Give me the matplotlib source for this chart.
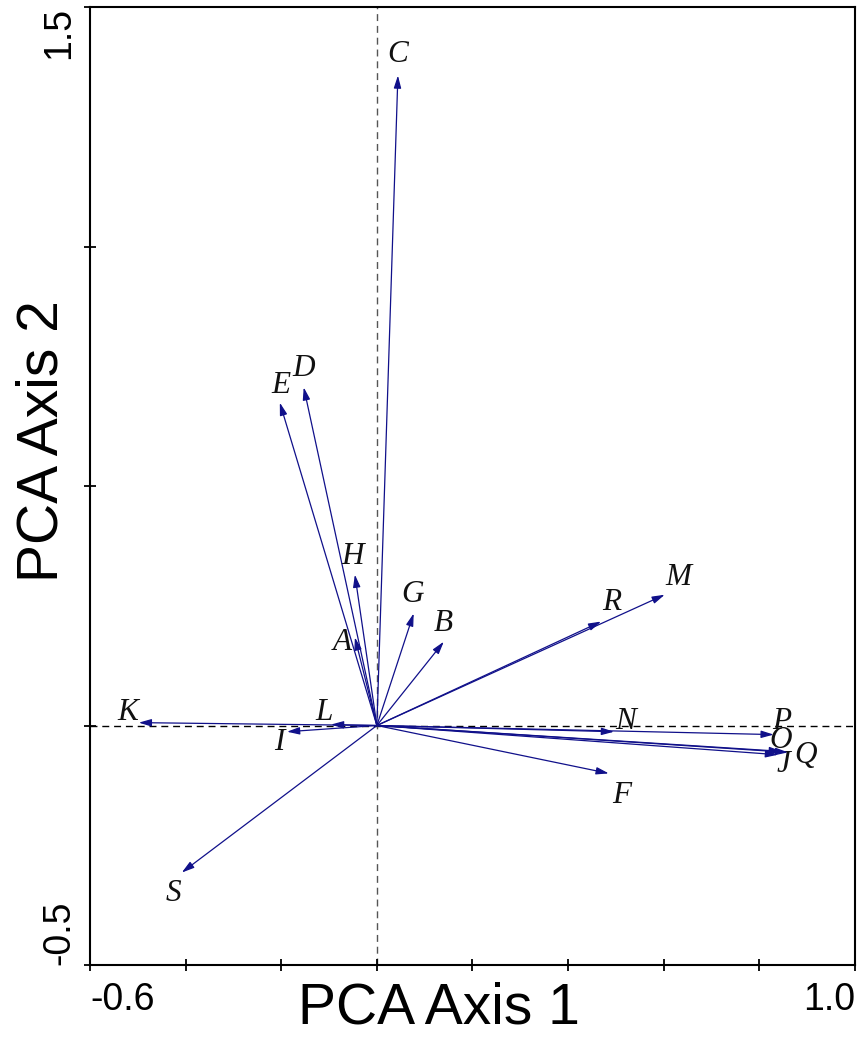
import numpy as np
import matplotlib.pyplot as plt

# PCA loadings (biplot arrows)
names = ["A", "B", "C", "D", "E", "F", "G", "H", "I", "J",
         "K", "L", "M", "N", "O", "P", "Q", "R", "S"]
axis1 = [-0.046, 0.140, 0.044, -0.153, -0.203, 0.485, 0.077, -0.046, -0.188, 0.839,
         -0.498, -0.096, 0.602, 0.496, 0.847, 0.830, 0.860, 0.469, -0.408]
axis2 = [0.184, 0.175, 1.357, 0.706, 0.674, -0.100, 0.234, 0.315, -0.013, -0.061,
         0.006, 0.002, 0.273, -0.013, -0.054, -0.019, -0.056, 0.217, -0.307]

xticks = [-0.6, -0.4, -0.2, 0.0, 0.2, 0.4, 0.6, 0.8, 1.0]
xticklabels = ["-0.6", "", "", "", "", "", "", "", "1.0"]
yticks = [-0.5, 0.0, 0.5, 1.0, 1.5]
yticklabels = ["-0.5", "", "", "", "1.5"]

# label offsets from the arrow tip, in pixels (x right, y up)
offsets = {"A": (-13, -5), "B": (-1, 18), "C": (0, 21), "D": (0, 19), "E": (1, 17),
           "F": (13, -22), "G": (-1, 19), "H": (-2, 18), "I": (-8, -11), "J": (5, -10),
           "K": (-11, 10), "L": (-7, 12), "M": (14, 17), "N": (12, 10), "O": (-1, 11),
           "P": (8, 13), "Q": (18, -3), "R": (11, 19), "S": (-8, -21)}

arrow_col = "#10108a"

fig = plt.figure(figsize=(8.62, 10.44), dpi=100)
ax = fig.add_axes([90 / 862, 1 - 965 / 1044, 765 / 862, 958 / 1044])

ax.axhline(0, color="black", lw=1, ls=(0, (5, 3.5)), zorder=1)
ax.axvline(0, color="#555555", lw=1, ls=(0, (5, 3.5)), zorder=1)

for n, x, y in zip(names, axis1, axis2):
    ax.annotate("", xy=(x, y), xytext=(0, 0),
                arrowprops=dict(arrowstyle="-|>,head_length=0.75,head_width=0.22",
                                color=arrow_col, lw=0.9, shrinkA=0, shrinkB=0))
    dx, dy = offsets[n]
    ax.annotate(n, xy=(x, y), xytext=(dx * 0.72, dy * 0.72), textcoords="offset points",
                ha="center", va="center", fontsize=22.5, style="italic",
                family="Liberation Serif", color="#111111")

ax.set_xlim(-0.6, 1.0)
ax.set_ylim(-0.5, 1.5)

ax.set_xticks(xticks)
ax.set_xticklabels(xticklabels, fontsize=27, family="Liberation Sans")
ax.set_yticks(yticks)
ax.set_yticklabels(yticklabels, fontsize=27, family="Liberation Sans", rotation=90)
tl = ax.get_xticklabels()
tl[0].set_ha("left")
tl[-1].set_ha("right")
tl = ax.get_yticklabels()
tl[0].set_va("bottom")
tl[-1].set_va("top")
for t in ax.get_yticklabels():
    t.set_ha("right")

ax.tick_params(direction="inout", length=8, width=1.3, pad=8)
ax.tick_params(axis="y", pad=5)
for s in ax.spines.values():
    s.set_linewidth(1.5)

ax.set_xlabel("PCA Axis 1", fontsize=41, family="Liberation Sans")
ax.set_ylabel("PCA Axis 2", fontsize=41, family="Liberation Sans")
ax.xaxis.set_label_coords(0.456, -0.045)
ax.yaxis.set_label_coords(-0.062, 0.547)
ax.xaxis.label.set_va("center")
ax.yaxis.label.set_va("center")

fig.savefig("out.png", dpi=100)
